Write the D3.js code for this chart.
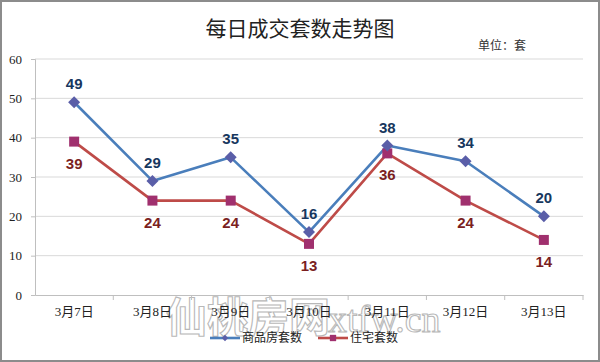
<!DOCTYPE html>
<html>
<head>
<meta charset="utf-8">
<script src="https://cdn.jsdelivr.net/npm/d3@7"></script>
<style>
  body { margin: 0; background: #fff; }
  svg { display: block; }
</style>
</head>
<body>
<div id="chart"></div>
<script>
// 每日成交套数走势图

const days = ["3月7日", "3月8日", "3月9日", "3月10日", "3月11日", "3月12日", "3月13日"];
const shangpin = [49, 29, 35, 16, 38, 34, 20];   // 商品房套数
const zhuzhai = [39, 24, 24, 13, 36, 24, 14];    // 住宅套数
const yTicks = [0, 10, 20, 30, 40, 50, 60];

const width = 600,
    height = 362,
    margin = ({ top: 59, right: 17, bottom: 67, left: 35 });

const serif = "'Liberation Serif', 'Noto Sans CJK SC', serif";
const cjk = "'Noto Sans CJK SC', sans-serif";

const svg = d3.select("#chart")
    .append("svg")
    .attr("width", width)
    .attr("height", height);

svg.append("rect") // outer frame
    .attr("x", 1).attr("y", 1)
    .attr("width", width - 2).attr("height", height - 2)
    .attr("fill", "#fff")
    .attr("stroke", "#8c8c8c")
    .attr("stroke-width", 2);

const x = d3.scaleBand()
    .domain(days)
    .range([margin.left, width - margin.right]);

const y = d3.scaleLinear()
    .domain([0, 60])
    .range([height - margin.bottom, margin.top]);

// gridlines
svg.append("g")
    .selectAll("line")
    .data(yTicks.slice(1))
    .join("line")
    .attr("x1", margin.left)
    .attr("x2", width - margin.right)
    .attr("y1", d => y(d))
    .attr("y2", d => y(d))
    .attr("stroke", "#d9d9d9")
    .attr("stroke-width", 1);

// watermark (sits over the bottom axis like in the source image)
const wm = svg.append("text")
    .attr("x", 166)
    .attr("y", 332)
    .attr("fill", "#fff")
    .attr("fill-opacity", 0.5)
    .attr("stroke", "#b8b8b8")
    .attr("stroke-width", 1.1);
wm.append("tspan").attr("font-family", cjk).attr("font-size", 41).attr("font-weight", "bold").text("仙桃房网");
wm.append("tspan").attr("font-family", serif).attr("font-size", 38).attr("dx", -2).text("xtfw.cn");

// y axis
const yAxis = svg.append("g")
    .attr("transform", `translate(${margin.left},0)`)
    .call(d3.axisLeft(y).tickValues(yTicks).tickSize(4).tickPadding(9));
yAxis.select(".domain").attr("stroke", "#bfbfbf");
yAxis.selectAll(".tick line").attr("stroke", "#bfbfbf");
yAxis.selectAll("text")
    .attr("font-family", serif)
    .attr("font-size", 13)
    .attr("fill", "#222");

// x axis, ticks at band boundaries
const xAxis = svg.append("g")
    .attr("transform", `translate(0,${y(0)})`)
    .call(d3.axisBottom(x).tickSize(0).tickPadding(12));
xAxis.select(".domain").attr("stroke", "#bfbfbf");
xAxis.selectAll("text")
    .attr("font-family", serif)
    .attr("font-size", 13)
    .attr("fill", "#222");
svg.append("g")
    .selectAll("line")
    .data(days)
    .join("line")
    .attr("x1", d => x(d) + x.step())
    .attr("x2", d => x(d) + x.step())
    .attr("y1", y(0))
    .attr("y2", y(0) + 5)
    .attr("stroke", "#bfbfbf");

const cx = i => x(days[i]) + x.bandwidth() / 2;

const line = d3.line()
    .x((d, i) => cx(i))
    .y(d => y(d));

const series = [
    { name: "商品房套数", values: shangpin, line: "#4a7ebb", mark: "#5a5ea8", label: "#17375e", rot: 45, size: 72, dy: -13 },
    { name: "住宅套数", values: zhuzhai, line: "#be4b48", mark: "#a0306e", label: "#7b1f1f", rot: 0, size: 100, dy: 27 }
];

// draw red first so blue sits on top
series.slice().reverse().forEach(s => {
    svg.append("path")
        .datum(s.values)
        .attr("fill", "none")
        .attr("stroke", s.line)
        .attr("stroke-width", 2.6)
        .attr("stroke-linejoin", "round")
        .attr("d", line);
});

series.slice().reverse().forEach(s => {
    svg.append("g")
        .selectAll("path")
        .data(s.values)
        .join("path")
        .attr("transform", (d, i) => `translate(${cx(i)},${y(d)}) rotate(${s.rot})`)
        .attr("d", d3.symbol(d3.symbolSquare, s.size))
        .attr("fill", s.mark);
});

series.forEach(s => {
    svg.append("g")
        .selectAll("text")
        .data(s.values)
        .join("text")
        .attr("x", (d, i) => cx(i))
        .attr("y", d => y(d) + s.dy)
        .attr("text-anchor", "middle")
        .attr("font-family", "'Liberation Sans', Arial, sans-serif")
        .attr("font-weight", "bold")
        .attr("font-size", 15)
        .attr("fill", s.label)
        .text(d => d);
});

// title
svg.append("text")
    .attr("x", 300)
    .attr("y", 36)
    .attr("text-anchor", "middle")
    .attr("font-family", cjk)
    .attr("font-size", 21)
    .attr("fill", "#222")
    .text("每日成交套数走势图");

svg.append("text")
    .attr("x", 478)
    .attr("y", 50)
    .attr("font-family", cjk)
    .attr("font-size", 12)
    .attr("fill", "#333")
    .text("单位：套");

// legend
const legend = svg.append("g")
    .attr("transform", "translate(210,342)");
const lx = [0, 108];
series.forEach((s, i) => {
    const g = legend.append("g").attr("transform", `translate(${lx[i]},0)`);
    g.append("line")
        .attr("x1", 0).attr("x2", 30)
        .attr("y1", -4).attr("y2", -4)
        .attr("stroke", s.line)
        .attr("stroke-width", 2.6);
    g.append("path")
        .attr("transform", `translate(15,-4) rotate(${s.rot})`)
        .attr("d", d3.symbol(d3.symbolSquare, s.rot ? 20 : 40))
        .attr("fill", s.mark);
    g.append("text")
        .attr("x", 32)
        .attr("y", 0)
        .attr("font-family", cjk)
        .attr("font-size", 12)
        .attr("fill", "#222")
        .text(s.name);
});
</script>
</body>
</html>
